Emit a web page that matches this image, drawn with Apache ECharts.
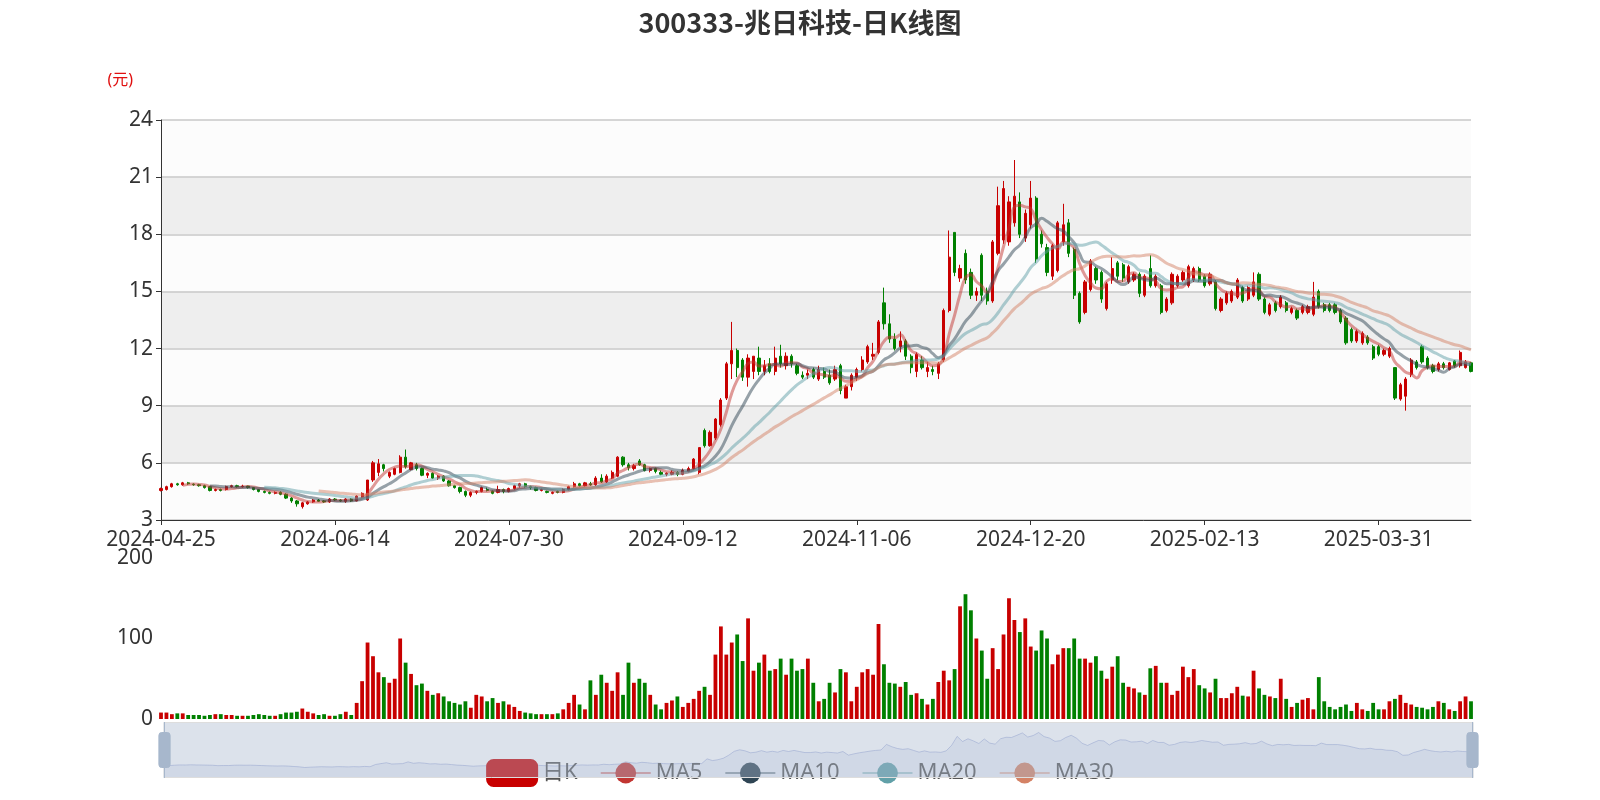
<!DOCTYPE html>
<html>
<head>
<meta charset="utf-8">
<script src="https://cdn.jsdelivr.net/npm/echarts@6/dist/echarts.min.js"></script>
<style>html,body{margin:0;padding:0;background:#fff}#main{width:1600px;height:800px}</style>
</head>
<body>
<div id="main"></div>
<script>
// 日K数据 [开盘, 收盘, 最低, 最高]
var kData = [
[4.55,4.65,4.5,4.7],[4.6,4.75,4.55,4.8],[4.75,4.9,4.7,4.95],[4.9,4.85,4.8,4.95],[4.85,4.95,4.8,5.0],
[4.95,4.9,4.85,5.0],[4.88,4.85,4.8,4.92],[4.85,4.8,4.75,4.9],[4.8,4.7,4.65,4.85],[4.75,4.55,4.5,4.78],
[4.55,4.6,4.5,4.65],[4.6,4.55,4.5,4.65],[4.6,4.75,4.55,4.8],[4.75,4.8,4.7,4.85],[4.8,4.75,4.7,4.85],
[4.75,4.78,4.7,4.85],[4.78,4.7,4.65,4.8],[4.7,4.6,4.55,4.72],[4.6,4.5,4.45,4.62],[4.5,4.45,4.4,4.55],
[4.45,4.4,4.35,4.5],[4.4,4.45,4.35,4.5],[4.45,4.35,4.3,4.5],[4.35,4.15,4.1,4.4],[4.15,4.0,3.9,4.2],
[4.0,3.85,3.7,4.05],[3.7,3.9,3.6,3.95],[3.85,3.95,3.8,4.0],[3.95,4.05,3.9,4.1],[4.05,3.98,3.95,4.1],
[4.0,3.95,3.9,4.05],[3.95,4.1,3.9,4.15],[4.1,4.05,4.0,4.15],[4.05,4.0,3.95,4.1],
[3.98,4.1,3.9,4.15],[4.1,4.0,3.95,4.15],[4.0,4.25,3.98,4.3],[4.2,4.4,4.15,4.45],[4.05,5.1,4.0,5.1],
[5.1,6.0,5.0,6.1],[5.5,5.95,5.3,6.2],[5.9,5.7,5.55,5.95],[5.3,5.5,5.2,5.55],
[5.4,5.7,5.35,5.75],[5.5,6.3,5.45,6.4],[6.3,5.8,5.7,6.7],[5.65,6.0,5.6,6.05],[5.9,5.7,5.6,6.0],
[5.7,5.35,5.3,5.75],[5.35,5.45,5.2,5.5],[5.45,5.2,5.15,5.5],[5.2,5.3,5.1,5.35],[5.3,5.05,5.0,5.35],
[5.05,4.8,4.75,5.1],[4.8,4.7,4.65,4.85],[4.7,4.5,4.4,4.75],[4.5,4.3,4.2,4.55],[4.3,4.45,4.2,4.5],
[4.45,4.5,4.35,4.55],[4.5,4.7,4.45,4.75],[4.6,4.55,4.5,4.7],[4.5,4.4,4.35,4.55],[4.45,4.6,4.4,4.8],
[4.6,4.5,4.4,4.65],[4.5,4.65,4.45,4.7],[4.65,4.8,4.6,4.85],[4.8,4.9,4.7,4.95],[4.9,4.75,4.7,4.95],
[4.75,4.7,4.6,4.8],[4.7,4.55,4.5,4.75],[4.55,4.6,4.5,4.65],[4.5,4.45,4.4,4.55],
[4.4,4.45,4.35,4.5],[4.5,4.45,4.4,4.55],[4.45,4.6,4.4,4.65],[4.6,4.75,4.55,4.8],
[4.75,4.9,4.7,5.0],[4.9,4.8,4.75,4.95],[4.8,4.95,4.75,5.0],[4.9,4.85,4.8,5.0],[4.85,5.2,4.8,5.3],
[5.2,5.0,4.95,5.4],[5.0,5.3,4.95,5.4],[5.2,5.5,5.15,5.6],[5.3,6.3,5.25,6.35],[6.3,5.9,5.8,6.35],
[5.9,5.75,5.6,6.0],[5.7,5.85,5.6,5.95],[6.1,5.9,5.85,6.2],[5.9,5.6,5.55,5.95],[5.6,5.7,5.5,5.75],
[5.7,5.55,5.45,5.75],[5.5,5.4,5.35,5.6],[5.4,5.45,5.3,5.5],[5.4,5.5,5.35,5.6],[5.5,5.4,5.3,5.55],
[5.4,5.6,5.35,5.7],[5.55,5.7,5.5,5.8],[5.7,6.2,5.65,6.25],[5.5,6.8,5.4,6.8],[7.7,6.9,6.8,7.8],
[6.9,7.6,6.85,7.7],[7.3,8.3,7.2,8.35],[8.0,9.3,7.9,9.4],[9.4,11.2,9.3,11.3],[11.2,11.9,10.4,13.4],
[11.9,11.0,10.5,12.0],[11.4,10.5,10.3,11.5],[10.5,11.5,10.0,11.7],[10.8,11.6,10.4,11.6],[11.5,10.8,10.6,12.1],
[10.8,11.1,10.6,11.4],[11.2,10.8,10.7,11.5],[10.8,11.5,10.6,12.1],[11.6,11.2,11.0,12.2],[11.1,11.6,10.9,11.8],
[11.6,11.2,11.0,11.7],[11.1,10.7,10.6,11.2],[10.6,10.5,10.4,10.8],[10.6,10.7,10.4,10.9],[10.9,10.5,10.4,11.0],
[10.4,10.9,10.3,11.1],[10.8,10.5,10.4,11.0],[10.6,10.2,10.1,10.9],[10.4,10.9,10.3,11.1],[11.1,9.8,9.6,11.2],
[9.4,10.0,9.4,10.1],[10.0,10.6,9.8,10.7],[10.5,10.9,10.3,11.0],[10.9,11.4,10.8,11.6],[11.3,12.1,11.2,12.2],
[11.6,11.7,11.4,12.3],[11.8,13.4,11.7,13.5],[14.4,13.3,13.0,15.2],[13.3,12.5,12.3,13.8],[12.5,12.0,11.9,12.8],
[12.1,12.4,11.8,12.9],[12.4,11.6,11.4,12.5],[11.6,11.0,10.7,11.7],[10.8,11.7,10.5,11.8],
[11.4,11.0,10.9,11.6],[10.8,11.0,10.5,11.3],[10.9,10.8,10.6,11.1],[10.7,11.2,10.4,11.3],
[11.4,14.0,11.3,14.1],[14.0,16.8,13.9,18.2],[18.1,16.0,15.8,18.1],[15.7,16.2,15.5,16.4],[17.0,15.6,15.4,17.2],
[16.0,14.8,14.6,16.2],[14.8,15.0,14.5,15.2],[16.9,14.8,14.5,17.0],[15.0,14.5,14.3,15.2],
[14.5,17.6,14.4,17.7],
[17.0,19.5,16.9,20.5],[17.7,20.4,17.5,20.8],[17.6,19.7,17.4,20.0],[18.6,20.0,18.4,21.9],[19.7,18.0,17.8,20.2],
[17.8,19.1,17.6,19.3],[18.5,19.9,18.3,20.8],[19.9,16.7,16.5,20.0],[18.0,17.5,17.3,18.2],[17.3,16.0,15.8,17.5],
[15.8,17.4,15.6,17.5],[16.1,18.6,16.0,18.7],[17.6,18.5,17.4,19.6],[18.6,17.0,16.8,18.8],[17.2,14.8,14.6,17.3],
[14.9,13.4,13.3,15.0],[13.9,15.5,13.8,15.6],[15.1,16.6,15.0,16.7],[16.2,15.6,15.4,16.3],[16.0,14.6,14.4,16.1],
[14.1,15.4,14.0,15.5],[15.6,16.2,15.4,16.8],[16.5,15.8,15.6,16.6],[16.4,15.7,15.5,16.5],[15.5,16.3,15.4,16.4],
[15.6,15.9,15.5,16.0],[15.9,14.9,14.7,16.0],[14.8,15.8,14.7,15.9],[16.2,15.3,15.2,16.9],[15.3,15.8,15.2,15.9],
[15.3,13.9,13.8,15.4],[14.0,14.6,13.9,14.7],[14.4,15.9,14.3,16.0],[15.3,15.8,15.2,15.9],[15.6,16.0,15.5,16.1],
[15.3,16.3,15.2,16.4],[15.6,16.2,15.5,16.3],[16.2,15.6,15.5,16.3],[15.8,15.3,15.2,15.9],[15.4,15.9,15.3,16.0],
[15.5,14.1,14.0,15.6],[14.0,14.6,13.9,14.7],[14.4,14.9,14.3,15.0],[14.5,15.0,14.4,15.1],[14.7,15.6,14.6,15.7],
[15.2,14.5,14.4,15.3],[14.6,15.2,14.5,15.3],[14.8,15.5,14.7,16.0],[15.9,14.6,14.5,16.0],[14.6,13.9,13.8,14.7],
[13.8,14.3,13.7,14.4],[14.4,14.0,13.9,14.5],[14.2,14.7,14.1,14.8],[14.4,14.0,13.9,14.5],[13.9,14.1,13.8,14.2],
[14.0,13.6,13.5,14.1],[13.9,14.2,13.8,14.3],[13.9,14.2,13.8,14.3],[13.8,14.7,13.7,15.5],[15.0,14.2,14.1,15.1],
[14.3,14.0,13.9,14.4],[14.3,14.0,13.9,14.4],[14.3,13.9,13.8,14.4],[14.0,13.4,13.3,14.1],[13.6,12.3,12.2,13.7],
[13.0,12.4,12.3,13.1],[12.4,12.9,12.3,13.0],[12.3,12.8,12.2,12.9],[12.6,12.3,12.2,12.7],[12.1,11.5,11.4,12.2],
[12.1,11.7,11.6,12.2],[11.7,11.9,11.6,12.0],[11.6,12.0,11.5,12.1],[11.0,9.4,9.3,11.0],[9.35,10.1,9.26,10.2],
[9.5,10.4,8.74,10.5],[10.65,11.4,10.5,11.5],[11.3,11.0,10.9,11.4],[12.1,11.3,11.2,12.2],[11.5,11.0,10.9,11.6],
[11.1,10.8,10.7,11.2],[10.9,11.2,10.8,11.3],[11.2,11.0,10.9,11.3],[10.9,11.25,10.85,11.3],[11.35,11.1,11.0,11.4],
[11.1,11.8,11.0,11.9],[11.0,11.3,10.95,11.4],[11.25,10.8,10.75,11.3]
]

// 成交量(万手)
var volumes = [
8,8,6,7,7,5,5,5,4,5,6,6,5,5,4,4,4,5,6,5,4,4,6,8,8,
9,13,9,7,5,6,4,4,6,9,5,20,
47,95,78,58,52,45,50,100,70,
56,42,44,35,30,32,28,22,20,18,22,14,30,28,
22,26,20,22,18,15,10,8,7,6,6,6,6,7,12,20,30,18,12,48,
30,55,45,35,58,30,70,
45,50,45,30,18,12,20,23,28,
15,20,25,35,40,30,80,115,80,95,105,72,125,60,70,80,60,
62,75,55,75,60,62,75,45,22,25,45,33,62,58,22,40,
58,62,55,118,68,45,44,40,46,30,32,25,18,25,46,60,48,62,140,155,135,100,85,50,88,62,
105,150,123,108,125,90,85,110,100,68,80,88,88,100,75,75,70,78,60,50,65,78,45,40,38,33,30,
63,66,45,45,30,35,65,52,62,42,38,33,50,26,26,32,40,29,28,60,38,30,28,26,50,
25,15,20,24,26,12,52,22,15,12,15,18,10,20,12,10,20,12,12,22,25,30,20,18,15,14,12,15,22,20,12,10,22,28,22
]

var holidays = ['2024-05-01','2024-05-02','2024-05-03','2024-06-10','2024-09-16','2024-09-17',
  '2024-10-01','2024-10-02','2024-10-03','2024-10-04','2024-10-07','2025-01-01',
  '2025-01-28','2025-01-29','2025-01-30','2025-01-31','2025-02-03','2025-02-04','2025-04-04']

function pad(n) { return n < 10 ? '0' + n : '' + n }

var dates = []
var d = new Date(2024, 3, 25)
while (dates.length < kData.length) {
    var s = d.getFullYear() + '-' + pad(d.getMonth() + 1) + '-' + pad(d.getDate())
    if (d.getDay() != 0 && d.getDay() != 6 && holidays.indexOf(s) < 0) dates.push(s)
    d.setDate(d.getDate() + 1)
}

// 均线
function calcMA(n) {
    var res = []
    for (var i = 0; i < kData.length; i++) {
        if (i < n - 1) { res.push('-'); continue }
        var sum = 0
        for (var j = 0; j < n; j++) sum += kData[i - j][1]
        res.push((sum / n).toFixed(2))
    }
    return res
}

var upColor = '#c80000', downColor = '#008000'
var volData = []
for (var i = 0; i < kData.length; i++) {
    volData.push({
        value: volumes[i],
        itemStyle: { color: kData[i][1] >= kData[i][0] ? upColor : downColor }
    })
}

function maSeries(name, n, color) {
    return {
        name: name, type: 'line', data: calcMA(n), smooth: true,
        symbol: 'circle', showSymbol: false,
        itemStyle: { color: color },
        lineStyle: { width: 3, opacity: 0.5, color: color }
    }
}

var chart = echarts.init(document.getElementById('main'))
var option = {
    animation: false,
    textStyle: { fontFamily: 'Noto Sans, Noto Sans CJK SC, sans-serif' },
    title: {
        text: '300333-兆日科技-日K线图', left: 'center', top: 4,
        textStyle: { fontSize: 27, fontWeight: 'bold', color: '#333', fontFamily: 'Noto Sans CJK SC' }
    },
    legend: {
        bottom: 8, itemWidth: 50, itemHeight: 26, itemGap: 22,
        data: ['日K', 'MA5', 'MA10', 'MA20', 'MA30'],
        textStyle: { fontSize: 22, color: '#555' }
    },
    grid: [
        { left: 161, right: 129, top: 120, height: 400 },
        { left: 161, right: 129, top: 558, height: 161 }
    ],
    xAxis: [
        {
            type: 'category', data: dates, boundaryGap: false,
            axisLine: { lineStyle: { color: '#333' } },
            axisTick: { interval: 31 },
            axisLabel: { interval: 31, fontSize: 21, color: '#333', margin: 10 },
            splitLine: { show: false }
        },
        {
            type: 'category', gridIndex: 1, data: dates, boundaryGap: false,
            axisLine: { show: false }, axisTick: { show: false }, axisLabel: { show: false }
        }
    ],
    yAxis: [
        {
            type: 'value', min: 3, max: 24, interval: 3,
            name: '(元)', nameGap: 32,
            nameTextStyle: { color: '#e01010', fontSize: 16, align: 'right', padding: [0, 28, 0, 0] },
            axisLine: { show: true, lineStyle: { color: '#333' } },
            axisTick: { show: true },
            axisLabel: { fontSize: 21, color: '#333' },
            splitLine: { lineStyle: { color: '#c8c8c8', width: 1.5 } },
            splitArea: { show: true, areaStyle: { color: ['#fcfcfc', '#eeeeee'] } }
        },
        {
            type: 'value', gridIndex: 1, min: 0, max: 200, interval: 100,
            axisLine: { show: false }, axisTick: { show: false },
            axisLabel: { fontSize: 21, color: '#333' },
            splitLine: { show: false }
        }
    ],
    dataZoom: [
        { type: 'inside', xAxisIndex: [0, 1], start: 0, end: 100 },
        {
            type: 'slider', xAxisIndex: [0, 1], start: 0, end: 100, left: 161, right: 129, top: 722, height: 56,
            backgroundColor: 'rgba(47,69,84,0)', borderColor: '#ddd',
            fillerColor: 'rgba(167,183,204,0.4)',
            handleStyle: { color: '#a7b7cc', borderColor: '#a7b7cc' },
            moveHandleSize: 0,
            dataBackground: {
                lineStyle: { color: '#aaa', width: 1, opacity: 0.8 },
                areaStyle: { color: 'rgba(150,160,180,0.3)' }
            },
            showDetail: false
        }
    ],
    series: [
        {
            name: '日K', type: 'candlestick', data: kData, barMaxWidth: 4,
            itemStyle: { color: upColor, color0: downColor, borderColor: upColor, borderColor0: downColor }
        },
        maSeries('MA5', 5, '#c23531'),
        maSeries('MA10', 10, '#2f4554'),
        maSeries('MA20', 20, '#61a0a8'),
        maSeries('MA30', 30, '#d48265'),
        {
            name: '成交量', type: 'bar', xAxisIndex: 1, yAxisIndex: 1, data: volData, barWidth: '70%'
        }
    ]
}
chart.setOption(option)
</script>
</body>
</html>
